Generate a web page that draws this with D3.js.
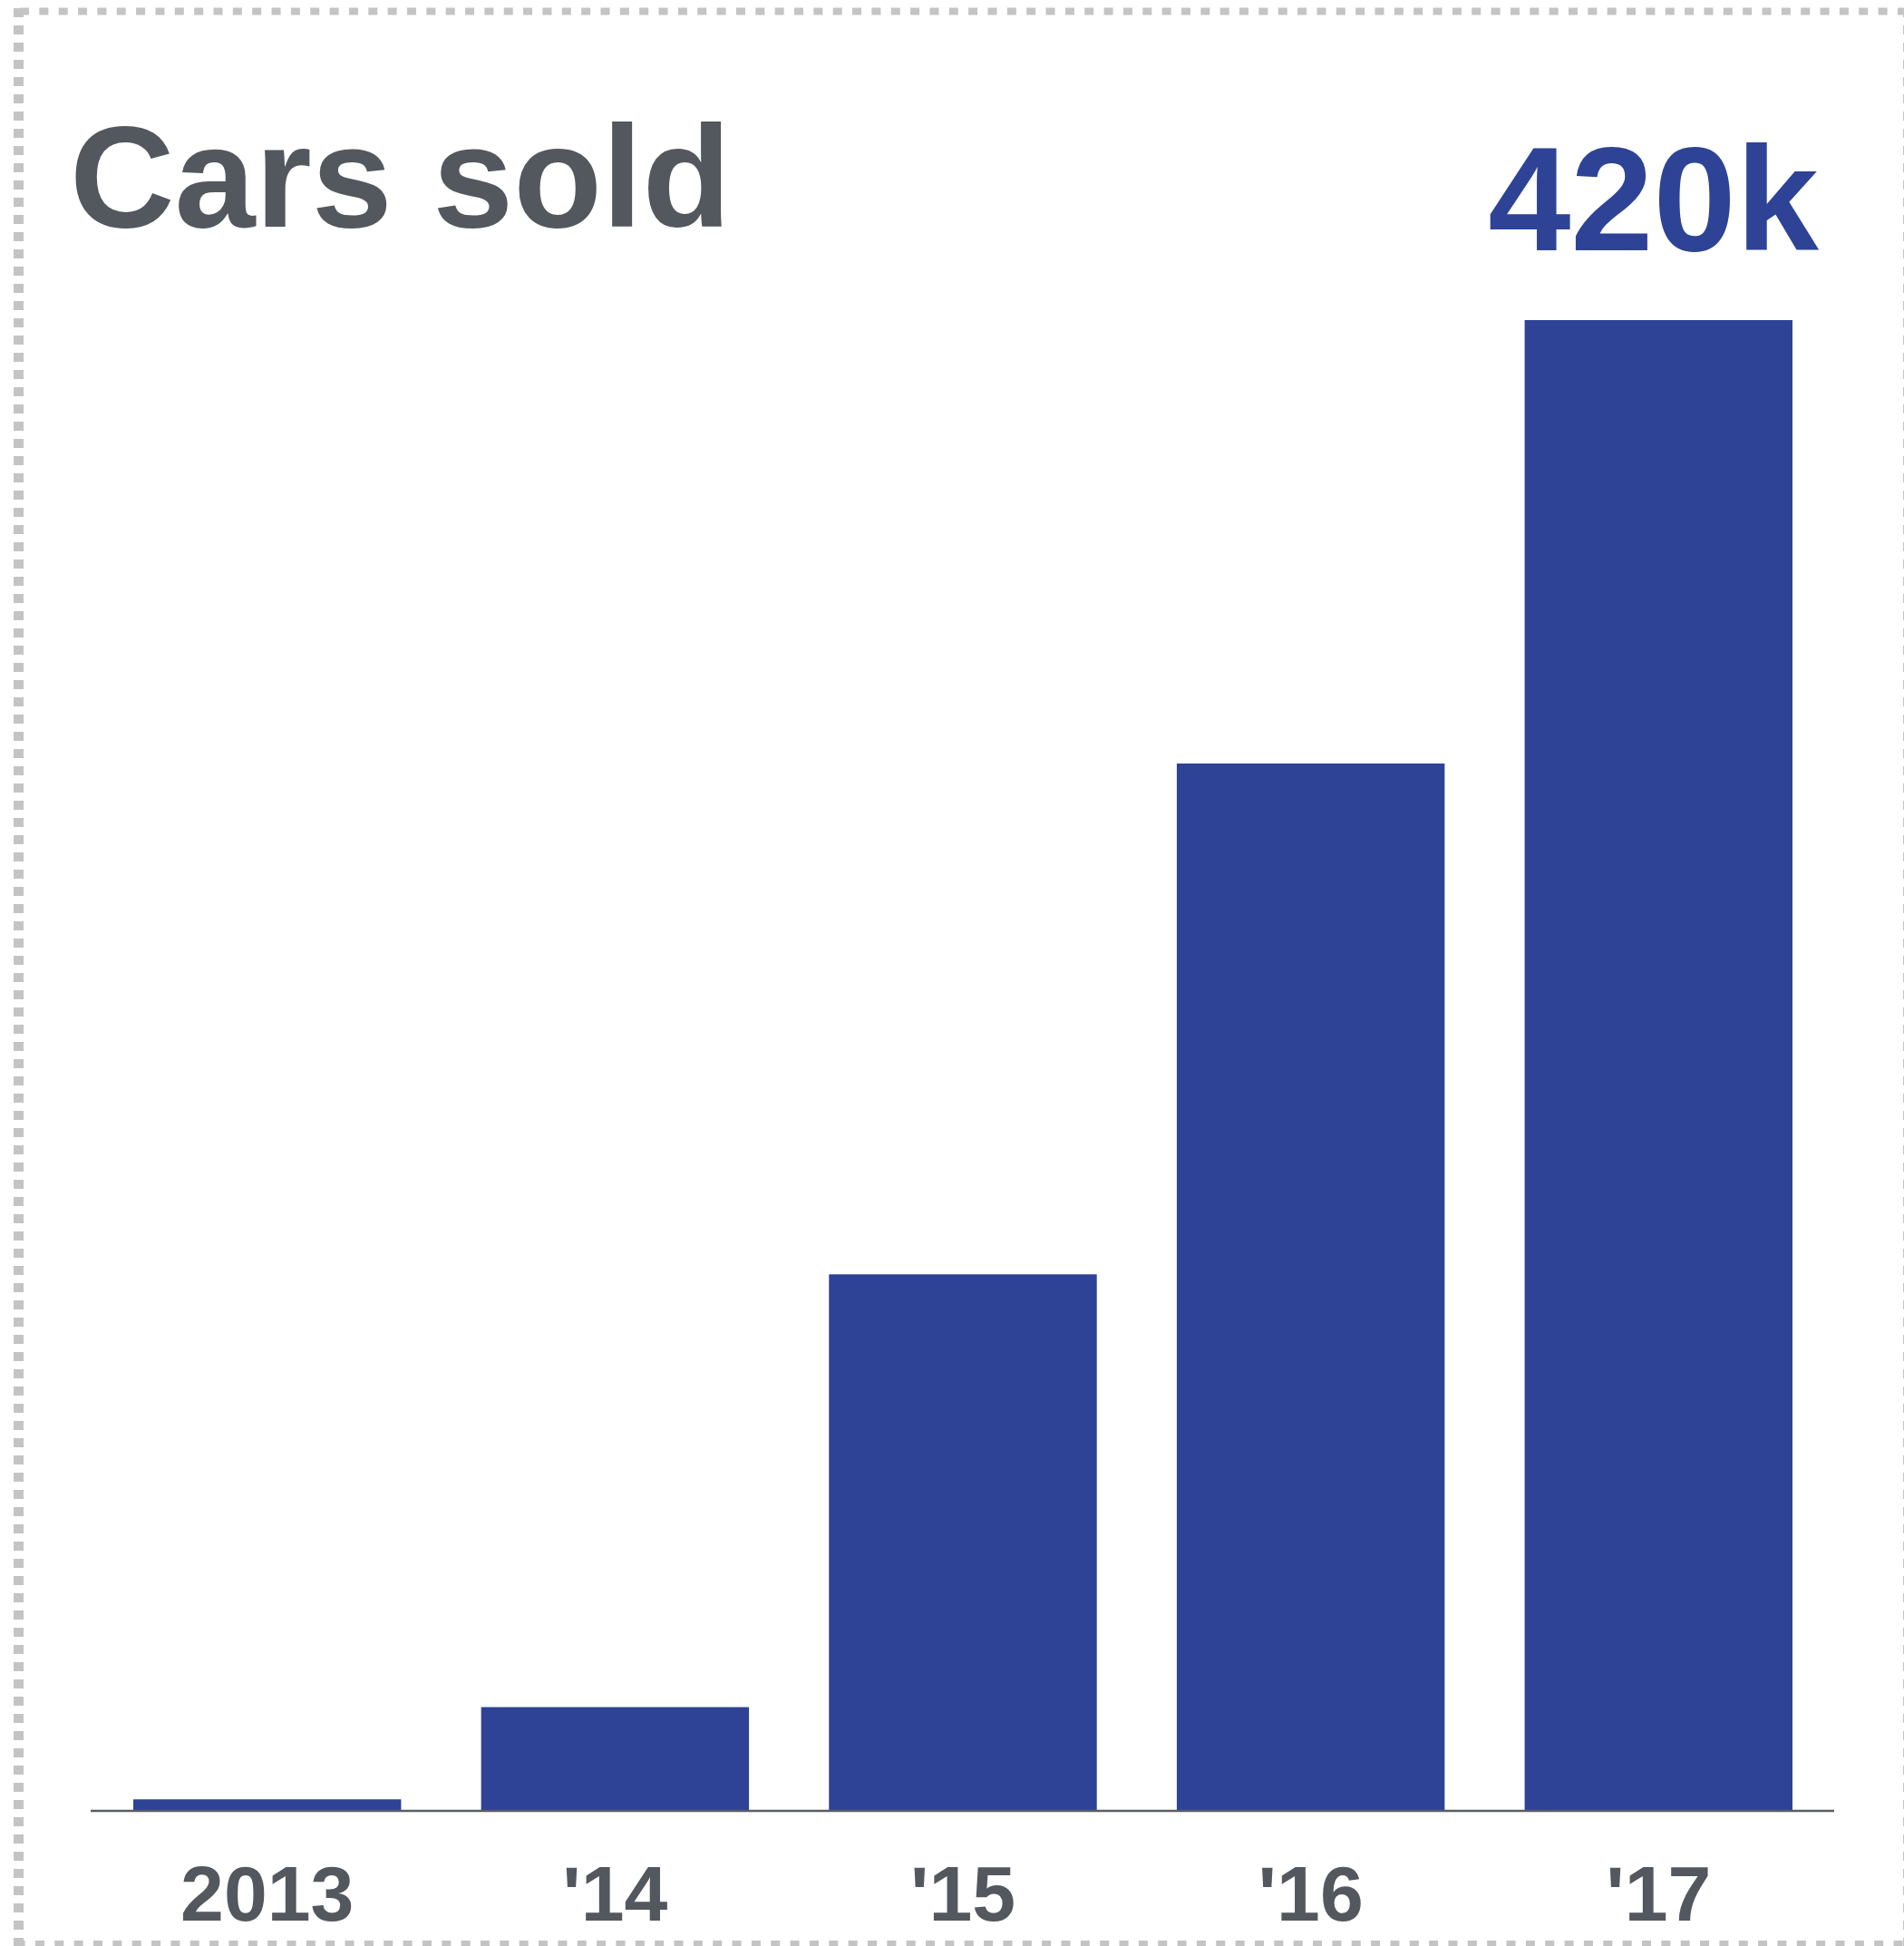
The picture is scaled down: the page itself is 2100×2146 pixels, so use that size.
<!DOCTYPE html>
<html>
<head>
<meta charset="utf-8">
<script src="https://cdn.jsdelivr.net/npm/d3@7"></script>
<style>
  html, body { margin: 0; padding: 0; background: #ffffff; }
  svg { display: block; }
  text { font-family: "Liberation Sans", Arial, Helvetica, sans-serif; font-weight: bold; }
</style>
</head>
<body>
<svg id="chart" width="2100" height="2146"></svg>
<script>
// Cars sold per year, in thousands
const years = ["2013", "'14", "'15", "'16", "'17"];
const sold = [3, 29, 151, 295, 420];
const title = "Cars sold";

const W = 2100, H = 2146;
const barColor = "#2e4396";
const textColor = "#53575e";
const axisColor = "#5a5e63";
const frameColor = "#c4c4c4";

const svg = d3.select("#chart");

// Dashed frame around the card
const frame = svg.append("g").attr("fill", "none").attr("stroke", frameColor);
frame.append("line").attr("x1", 22).attr("x2", W).attr("y1", 12.5).attr("y2", 12.5)
  .attr("stroke-width", 8).attr("stroke-dasharray", "10 11.35");
frame.append("line").attr("x1", 17.6).attr("x2", W).attr("y1", 2145).attr("y2", 2145)
  .attr("stroke-width", 10).attr("stroke-dasharray", "10 11.35");
frame.append("line").attr("x1", 20.5).attr("x2", 20.5).attr("y1", 9).attr("y2", H)
  .attr("stroke-width", 11).attr("stroke-dasharray", "10 9");
frame.append("line").attr("x1", 2104).attr("x2", 2104).attr("y1", 9).attr("y2", H)
  .attr("stroke-width", 10).attr("stroke-dasharray", "10 9");

// Scales
const x = d3.scaleBand()
  .domain(years)
  .range([147, 1977])
  .paddingInner(0.23)
  .paddingOuter(0);

const y = d3.scaleLinear()
  .domain([0, 420])
  .range([1996, 353]);

// Bars
svg.append("g")
  .selectAll("rect")
  .data(years.map((yr, i) => ({ yr, v: sold[i] })))
  .join("rect")
  .attr("x", d => x(d.yr))
  .attr("width", x.bandwidth())
  .attr("y", d => y(d.v))
  .attr("height", d => y(0) - y(d.v))
  .attr("fill", barColor);

// Baseline and category labels
const xAxis = d3.axisBottom(x).tickSize(0).tickPadding(0);
const gx = svg.append("g")
  .attr("transform", `translate(0,${y(0) + 1})`)
  .call(xAxis);
gx.select(".domain").remove();
gx.selectAll("text")
  .attr("y", 121)
  .attr("dy", null)
  .attr("font-size", 86)
  .attr("font-family", "'Liberation Sans', Arial, sans-serif")
  .attr("font-weight", "bold")
  .attr("fill", textColor);

svg.append("line")
  .attr("x1", 100).attr("x2", 2023)
  .attr("y1", y(0) + 1).attr("y2", y(0) + 1)
  .attr("stroke", axisColor)
  .attr("stroke-width", 2.6);

// Title
svg.append("text")
  .attr("x", 77)
  .attr("y", 250)
  .attr("font-size", 160)
  .attr("fill", textColor)
  .text(title);

// Latest value callout
const last = sold[sold.length - 1];
svg.append("text")
  .attr("x", x(years[years.length - 1]) + x.bandwidth() + 29)
  .attr("y", 276)
  .attr("text-anchor", "end")
  .attr("font-size", 164)
  .attr("fill", barColor)
  .text(`${last}k`);
</script>
</body>
</html>
